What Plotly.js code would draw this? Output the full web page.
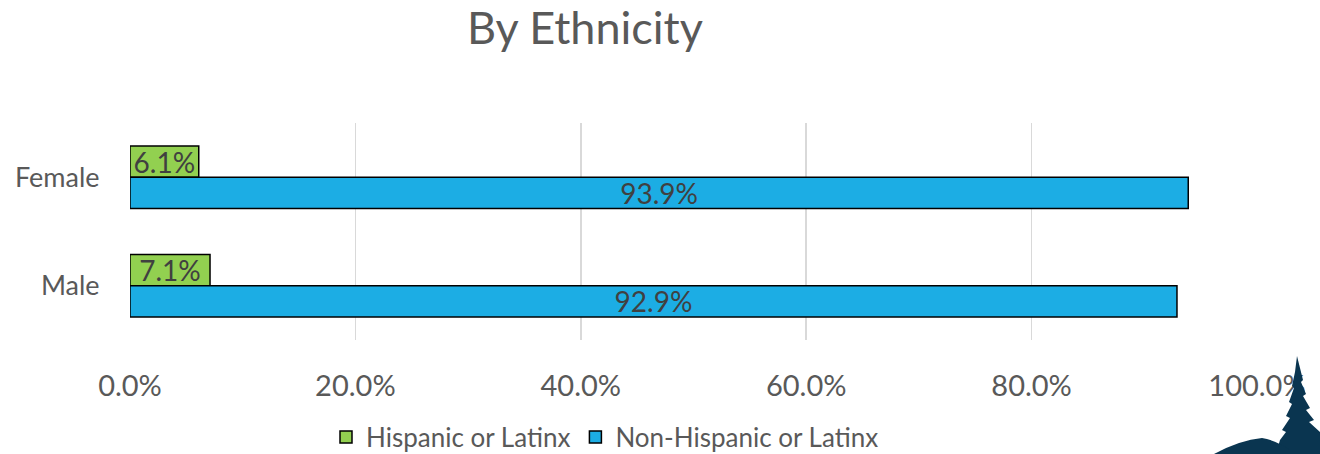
<!DOCTYPE html>
<html>
<head>
<meta charset="utf-8">
<script src="https://cdn.plot.ly/plotly-3.0.1.min.js"></script>
<style>
html,body{margin:0;padding:0;background:#fff;}
#wrap{position:relative;width:1320px;height:454px;overflow:hidden;}
#chart{width:1320px;height:454px;}
#tree{position:absolute;left:0;top:0;pointer-events:none;}
</style>
</head>
<body>
<div id="wrap">
<div id="chart"></div>
<svg id="tree" width="1320" height="454" viewBox="0 0 1320 454">
  <path fill="#0a3550" d="M1297,356 L1300,368 L1303,380 L1301,382 L1306,394 L1303,396 L1310,408 L1306,410 L1314,420 L1309,422 L1320,432 L1320,454 L1276,454 L1280,440 L1286,432 L1282,430 L1290,418 L1286,416 L1292,404 L1289,402 L1294,388 L1292,386 L1295,372 Z"/>
  <path fill="#0a3550" d="M1214,454 Q1240,440 1262,438 Q1275,440 1290,450 L1290,454 Z"/>
</svg>
</div>
<script>
const categories = ['Female', 'Male'];
const hispanic = [0.061, 0.071];
const nonHispanic = [0.939, 0.929];
const seriesNames = ['Hispanic or Latinx', 'Non-Hispanic or Latinx'];
const xTicks = [0, 0.2, 0.4, 0.6, 0.8, 1.0];

const fmt = v => (v * 100).toFixed(1) + '%';
const FONT = 'Lato, "Open Sans", sans-serif';

const traces = [
  {
    type: 'bar', orientation: 'h', name: seriesNames[0],
    y: categories, x: hispanic,
    text: hispanic.map(fmt), textposition: 'inside', insidetextanchor: 'middle',
    constraintext: 'none', cliponaxis: false,
    textfont: {family: FONT, size: 28, color: '#404040'},
    marker: {color: '#92D050', line: {color: '#000000', width: 1.5}},
    hoverinfo: 'skip'
  },
  {
    type: 'bar', orientation: 'h', name: seriesNames[1],
    y: categories, x: nonHispanic,
    text: nonHispanic.map(fmt), textposition: 'inside', insidetextanchor: 'middle',
    constraintext: 'none', cliponaxis: false,
    textfont: {family: FONT, size: 28, color: '#404040'},
    marker: {color: '#1CADE4', line: {color: '#000000', width: 1.5}},
    hoverinfo: 'skip'
  }
];

const layout = {
  width: 1320, height: 454,
  margin: {l: 130, r: 63, t: 123, b: 114},
  paper_bgcolor: '#ffffff', plot_bgcolor: '#ffffff',
  font: {family: FONT, color: '#595959'},
  title: {
    text: 'By Ethnicity',
    font: {family: FONT, size: 45, color: '#595959'},
    xref: 'container', x: 585 / 1320, xanchor: 'center',
    yref: 'container', y: 1 - 28 / 454, yanchor: 'middle'
  },
  barmode: 'group',
  bargap: 0.426, bargroupgap: 0,
  xaxis: {
    range: [0, 1.0], tickvals: xTicks, ticktext: xTicks.map(fmt),
    showgrid: true, gridcolor: '#d9d9d9', gridwidth: 1.5,
    zeroline: false, showline: false,
    ticks: 'outside', ticklen: 20, tickcolor: 'rgba(0,0,0,0)',
    tickfont: {family: FONT, size: 29, color: '#595959'},
    fixedrange: true
  },
  yaxis: {
    type: 'category', categoryorder: 'array', categoryarray: categories,
    autorange: 'reversed',
    showgrid: false, zeroline: false, showline: false,
    ticks: 'outside', ticklen: 24, tickcolor: 'rgba(0,0,0,0)',
    tickfont: {family: FONT, size: 27, color: '#595959'},
    fixedrange: true
  },
  showlegend: true,
  legend: {
    orientation: 'h',
    xref: 'paper', x: (605 - 130) / 1127, xanchor: 'center',
    yref: 'container', y: 1 - 437 / 454, yanchor: 'middle',
    font: {family: FONT, size: 26, color: '#595959'},
    itemwidth: 30, tracegroupgap: 0
  }
};

Plotly.newPlot('chart', traces, layout, {staticPlot: true, displayModeBar: false});
</script>
</body>
</html>
